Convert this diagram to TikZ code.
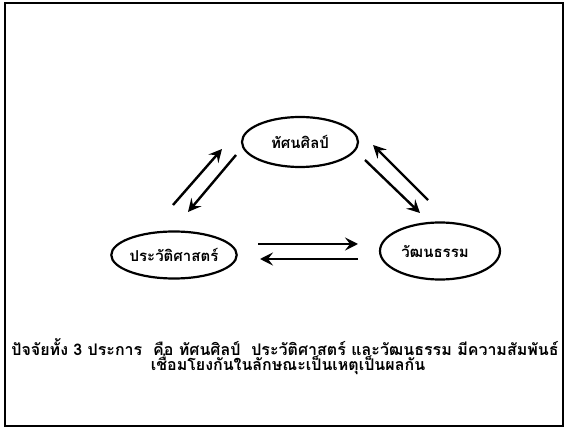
\documentclass[tikz,border=0pt]{standalone}
\usepackage{fontspec}
\newfontfamily\thaifont[Script=Thai]{Loma}
\usepackage{tikz}
\usetikzlibrary{shapes.geometric, arrows.meta}
\tikzstyle{factor} = [
    ellipse, minimum width=116pt, minimum height=50pt, text centered,
    draw=black, line width=2.2pt, inner sep=0pt,
    font=\thaifont\bfseries\fontsize{15}{17}\selectfont
]
\tikzstyle{caption} = [
    font=\thaifont\bfseries\fontsize{16}{18}\selectfont, inner sep=0pt
]
\tikzstyle{arrow} = [line width=2.4pt,-{Stealth[length=13pt,width=13pt,inset=5pt]}]

\begin{document}
\begin{tikzpicture}[x=1pt,y=-1pt]
        \useasboundingbox (0,0) rectangle (568,430);
        \draw [line width=1.8pt] (5,3) rectangle (563,426);

        \node (art) [factor] at (300,142) {ทัศนศิลป์};
        \node (hist) [factor, minimum width=118pt, minimum height=47pt]
            at (174,255) {ประวัติศาสตร์};
        \node (cult) [factor, minimum width=120pt, minimum height=57pt]
            at (440,251) {วัฒนธรรม\hspace*{10pt}};

        % arrow ends between the ellipses
        \coordinate (ha1) at (173,205);
        \coordinate (ha2) at (222,149);
        \coordinate (ah1) at (236,155);
        \coordinate (ah2) at (188,212);
        \coordinate (ca1) at (428,200);
        \coordinate (ca2) at (373,145);
        \coordinate (ac1) at (365,160);
        \coordinate (ac2) at (420,213);
        \coordinate (hc1) at (258,244);
        \coordinate (hc2) at (358,244);
        \coordinate (ch1) at (358,259);
        \coordinate (ch2) at (260,259);

        \draw [arrow] (ha1) -- (ha2);
        \draw [arrow] (ah1) -- (ah2);
        \draw [arrow] (ca1) -- (ca2);
        \draw [arrow] (ac1) -- (ac2);
        \draw [arrow] (hc1) -- (hc2);
        \draw [arrow] (ch1) -- (ch2);

        \node (cap1) [caption] at (285,347)
            {ปัจจัยทั้ง 3 ประการ \ คือ ทัศนศิลป์ \ ประวัติศาสตร์ และวัฒนธรรม มีความสัมพันธ์};
        \node (cap2) [caption] at (288,364)
            {เชื่อมโยงกันในลักษณะเป็นเหตุเป็นผลกัน};
    \end{tikzpicture}
\end{document}
